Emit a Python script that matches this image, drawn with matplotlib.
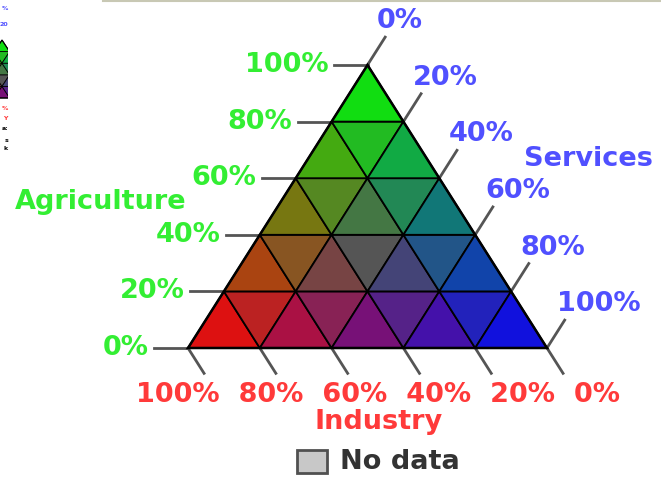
import numpy as np
import matplotlib.pyplot as plt
from matplotlib.patches import Polygon, Rectangle

# ternary legend data
n_steps = 5
agri_ticks = [0, 20, 40, 60, 80, 100]
industry_ticks = [100, 80, 60, 40, 20, 0]
services_ticks = [0, 20, 40, 60, 80, 100]
agri_title = 'Agriculture'
industry_title = 'Industry'
services_title = 'Services'
nodata_label = 'No data'

green = '#33ee33'
red = '#ff3a3a'
blue = '#5050ff'
tick_col = '#555555'

# corners of the triangle in pixel space (agri top, industry left, services right)
TOP = np.array([367.5, 65.0])
LEFT = np.array([188.0, 348.0])
RIGHT = np.array([547.0, 348.0])


def tern(a, i, s, top=TOP, left=LEFT, right=RIGHT):
    return a * top + i * left + s * right


def cell_color(pts):
    # pts are (a, s) grid steps; colour = (industry, agriculture, services)
    a = np.mean([p[0] for p in pts]) / n_steps
    s = np.mean([p[1] for p in pts]) / n_steps
    i = 1 - a - s
    return (i, a, s)


def cells():
    out = []
    for a in range(n_steps):
        for s in range(n_steps - a):
            out.append([(a, s), (a, s + 1), (a + 1, s)])
            if a + s <= n_steps - 2:
                out.append([(a + 1, s), (a, s + 1), (a + 1, s + 1)])
    return out


def draw_triangle(ax, top, left, right, lw=1.3, clip=None):
    for pts in cells():
        xy = [tern(p[0] / n_steps, 1 - (p[0] + p[1]) / n_steps, p[1] / n_steps,
                   top, left, right) for p in pts]
        poly = Polygon(xy, closed=True, facecolor=cell_color(pts),
                       edgecolor='black', lw=lw, joinstyle='round')
        ax.add_patch(poly)
        if clip is not None:
            poly.set_clip_path(clip)
    outer = Polygon([top, left, right], closed=True, fill=False,
                    edgecolor='black', lw=lw * 1.4)
    ax.add_patch(outer)
    if clip is not None:
        outer.set_clip_path(clip)


fig = plt.figure(figsize=(6.61, 4.79), dpi=100)
ax = fig.add_axes([0, 0, 1, 1])
ax.set_xlim(0, 661)
ax.set_ylim(479, 0)
ax.axis('off')

fs = 19.5
fw = 'bold'

# tick lines and labels
left_dir = (TOP - LEFT) / np.linalg.norm(TOP - LEFT)
right_dir = (RIGHT - TOP) / np.linalg.norm(RIGHT - TOP)

for v in agri_ticks:
    a = v / 100
    p = tern(a, 1 - a, 0)
    q = p + np.array([-34, 0])
    ax.plot([p[0], q[0]], [p[1], q[1]], color=tick_col, lw=2, zorder=1)
    ax.text(q[0] - 5, q[1], f'{v}%', color=green, fontsize=fs, fontweight=fw,
            ha='right', va='center')

for v in services_ticks:
    s = v / 100
    p = tern(1 - s, 0, s)
    q = p + left_dir * 33
    ax.plot([p[0], q[0]], [p[1], q[1]], color=tick_col, lw=2, zorder=1)
    ax.text(q[0] - 8, q[1] - 16, f'{v}%', color=blue, fontsize=fs, fontweight=fw,
            ha='left', va='center')

for v in industry_ticks:
    i = v / 100
    p = tern(0, i, 1 - i)
    q = p + right_dir * 30
    ax.plot([p[0], q[0]], [p[1], q[1]], color=tick_col, lw=2, zorder=1)

ax.text(378, 395, '  '.join(f'{v}%' for v in industry_ticks), color=red,
        fontsize=fs, fontweight=fw, ha='center', va='center')

draw_triangle(ax, TOP, LEFT, RIGHT)

ax.text(101, 202, agri_title, color=green, fontsize=fs, fontweight=fw,
        ha='center', va='center')
ax.text(588, 159, services_title, color=blue, fontsize=fs, fontweight=fw,
        ha='center', va='center')
ax.text(379, 422, industry_title, color=red, fontsize=fs, fontweight=fw,
        ha='center', va='center')

# no data legend
ax.add_patch(Rectangle((297, 450), 30, 23, facecolor='#c8c8c8',
                       edgecolor='#505050', lw=2))
ax.text(340, 462, nodata_label, color='#333333', fontsize=fs, fontweight=fw,
        ha='left', va='center')

# frame line at top and cut off thumbnail on the left
ax.plot([103, 661], [1, 1], color='#c8c8b4', lw=1.5)
clip = Rectangle((0, 0), 8, 160, transform=ax.transData)
draw_triangle(ax, np.array([2, 40]), np.array([-36, 98]), np.array([40, 98]),
              lw=0.6, clip=clip)
for y, txt, col in [(8, '%', blue), (24, '20', blue), (108, '%', red),
                    (118, 'Y', red), (128, 'a:', 'black'), (140, 's', 'black'),
                    (148, 'k', 'black')]:
    ax.text(8, y, txt, color=col, fontsize=4.5, fontweight='bold',
            ha='right', va='center')

plt.savefig('out.png', dpi=100, facecolor='white')
